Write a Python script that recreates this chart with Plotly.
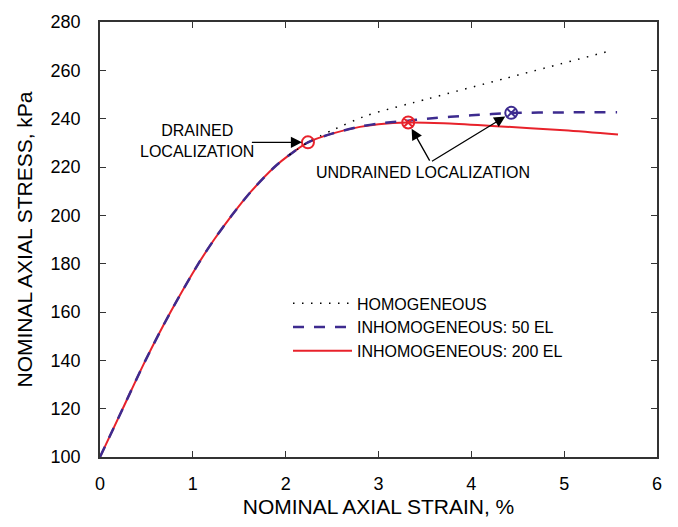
import plotly.graph_objects as go

# ---- data ----
strain_common = [0.0, 0.245, 0.49, 0.76, 1.06, 1.23, 1.42, 1.63, 1.88, 2.04, 2.24]
stress_common = [100.0, 120.0, 140.0, 160.0, 180.0, 190.0, 200.0, 210.0, 220.0, 225.0, 230.2]

strain_homog = [2.38, 2.5, 2.88, 3.53, 4.37, 5.51]
stress_homog = [233.0, 235.2, 241.4, 248.2, 256.7, 268.2]

strain_50el = [2.5, 2.8, 3.0, 3.32, 3.52, 4.0, 4.43, 5.0, 5.57]
stress_50el = [233.8, 236.7, 238.0, 239.1, 240.0, 241.4, 242.3, 242.6, 242.7]

strain_200el = [2.5, 2.8, 3.0, 3.32, 3.7, 4.27, 5.0, 5.58]
stress_200el = [233.8, 236.6, 237.7, 238.4, 238.1, 236.9, 235.2, 233.4]

drained_pt = (2.24, 230.2)
undrained_200_pt = (3.32, 238.4)
undrained_50_pt = (4.43, 242.4)

x_ticks = [0, 1, 2, 3, 4, 5, 6]
y_ticks = [100, 120, 140, 160, 180, 200, 220, 240, 260, 280]

RED = "#e8222b"
BLUE = "#3d2b8f"
FONT = "Liberation Sans, Arial, sans-serif"

fig = go.Figure()

fig.add_trace(go.Scatter(
    x=strain_common + strain_200el, y=stress_common + stress_200el,
    mode="lines", name="INHOMOGENEOUS: 200 EL",
    line=dict(color=RED, width=2, shape="spline", smoothing=0.8),
    legendrank=3))
fig.add_trace(go.Scatter(
    x=strain_common + strain_50el, y=stress_common + stress_50el,
    mode="lines", name="INHOMOGENEOUS: 50 EL",
    line=dict(color=BLUE, width=2.5, dash="11px,10px", shape="spline", smoothing=0.8),
    legendrank=2))
fig.add_trace(go.Scatter(
    x=strain_common[-2:] + strain_homog, y=stress_common[-2:] + stress_homog,
    mode="lines", name="HOMOGENEOUS",
    line=dict(color="black", width=1.5, dash="1.5px,7.5px", shape="spline", smoothing=0.6),
    legendrank=1))

# localization markers
fig.add_trace(go.Scatter(x=[drained_pt[0]], y=[drained_pt[1]], mode="markers",
                         marker=dict(symbol="circle-open", size=12, color=RED,
                                     line=dict(width=2, color=RED)),
                         showlegend=False))
fig.add_trace(go.Scatter(x=[undrained_200_pt[0]], y=[undrained_200_pt[1]], mode="markers",
                         marker=dict(symbol="circle-x-open", size=12, color=RED,
                                     line=dict(width=2, color=RED)),
                         showlegend=False))
fig.add_trace(go.Scatter(x=[undrained_50_pt[0]], y=[undrained_50_pt[1]], mode="markers",
                         marker=dict(symbol="circle-x-open", size=12, color=BLUE,
                                     line=dict(width=2, color=BLUE)),
                         showlegend=False))

ann_font = dict(family=FONT, size=16, color="black")
arrow_style = dict(showarrow=True, arrowhead=2, arrowsize=1.7, arrowwidth=1.3,
                   arrowcolor="black", xref="x", yref="y", axref="x", ayref="y", text="")
annotations = [
    dict(x=1.045, y=230.8, xref="x", yref="y", text="DRAINED<br>LOCALIZATION",
         showarrow=False, font=ann_font, align="center"),
    dict(x=drained_pt[0], y=drained_pt[1], ax=1.62, ay=drained_pt[1], standoff=6, **arrow_style),
    dict(x=3.48, y=217.8, xref="x", yref="y", text="UNDRAINED LOCALIZATION",
         showarrow=False, font=ann_font),
    dict(x=undrained_200_pt[0], y=undrained_200_pt[1], ax=3.56, ay=222.0, standoff=7, **arrow_style),
    dict(x=undrained_50_pt[0], y=undrained_50_pt[1], ax=3.56, ay=222.0, standoff=7, **arrow_style),
]

axis_common = dict(
    showgrid=False, zeroline=False, showline=True, linecolor="#333333", linewidth=1.5,
    mirror="ticks", ticks="inside", ticklen=6, tickwidth=1.3, tickcolor="#333333",
    tickfont=dict(family=FONT, size=18, color="black"),
)

fig.update_layout(
    width=678, height=527,
    margin=dict(l=100, r=21, t=17, b=69),
    plot_bgcolor="white", paper_bgcolor="white",
    font=dict(family=FONT, color="black"),
    xaxis=dict(range=[0, 6], tickvals=x_ticks, ticklabelstandoff=10,
               title=dict(text="NOMINAL AXIAL STRAIN, %", font=dict(family=FONT, size=21),
                          standoff=6),
               **axis_common),
    yaxis=dict(range=[100, 280], tickvals=y_ticks, ticklabelstandoff=14,
               title=dict(text="NOMINAL AXIAL STRESS, kPa", font=dict(family=FONT, size=21),
                          standoff=12),
               **axis_common),
    legend=dict(x=(288 - 100) / 557, y=(458 - 285) / 441, xanchor="left", yanchor="top",
                bgcolor="rgba(0,0,0,0)", font=dict(family=FONT, size=16),
                itemwidth=59, traceorder="normal"),
    annotations=annotations,
)

fig.write_html("out.html")
